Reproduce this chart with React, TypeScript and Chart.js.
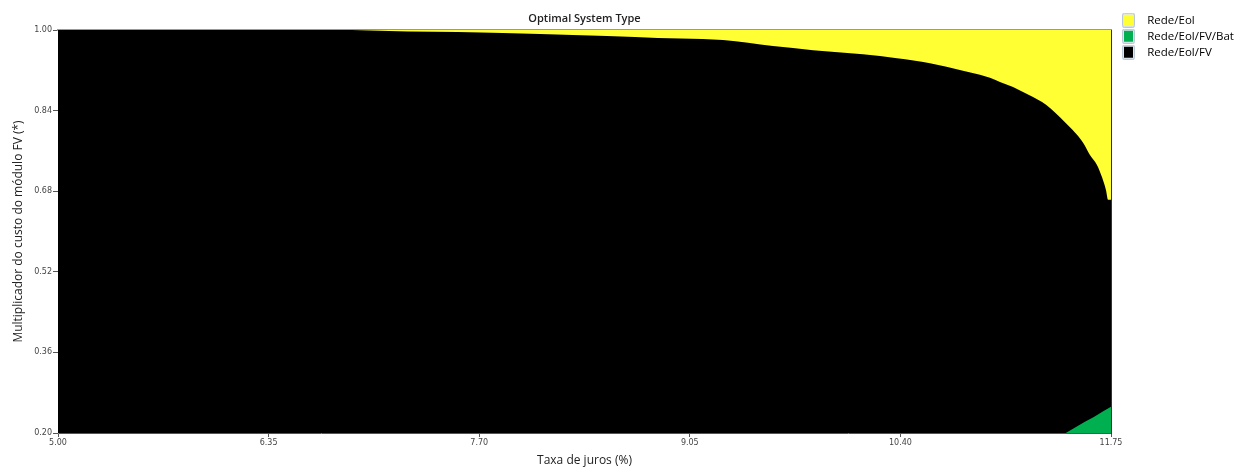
import React, { useEffect, useRef } from "react";
import { Chart, registerables } from "chart.js";

Chart.register(...registerables);

// ---- data ----
const categories = ["Rede/Eol", "Rede/Eol/FV/Bat", "Rede/Eol/FV"];
const categoryColors = ["#ffff33", "#00b050", "#000000"];

const xTicks = [5.0, 6.35, 7.7, 9.05, 10.4, 11.75];
const yTicks = [0.2, 0.36, 0.52, 0.68, 0.84, 1.0];

// boundary above which Rede/Eol is optimal
const eolRate = [6.885, 7.244, 7.564, 7.852, 8.09, 8.301, 8.519, 8.699, 8.846, 9.134, 9.263, 9.583, 9.84, 10.16, 10.378, 10.59, 10.801, 10.91, 10.974, 11.038, 11.122, 11.186, 11.25, 11.308, 11.359, 11.423, 11.474, 11.532, 11.571, 11.615, 11.66, 11.692, 11.718, 11.731, 11.75];
const eolMult = [1.0, 0.997, 0.996, 0.994, 0.992, 0.99, 0.988, 0.986, 0.984, 0.982, 0.98, 0.968, 0.96, 0.952, 0.944, 0.934, 0.919, 0.911, 0.905, 0.897, 0.887, 0.877, 0.867, 0.857, 0.845, 0.827, 0.811, 0.792, 0.776, 0.752, 0.732, 0.708, 0.682, 0.663, 0.663];

// boundary below which Rede/Eol/FV/Bat is optimal
const batRate = [11.46, 11.52, 11.58, 11.64, 11.7, 11.75];
const batMult = [0.2, 0.211, 0.222, 0.232, 0.243, 0.252];

// Rede/Eol/FV covers the whole domain underneath
const fvRate = [5.0, 11.75];
const fvMult = [1.0, 1.0];

const zip = (xs: number[], ys: number[]) => xs.map((x, i) => ({ x, y: ys[i] }));

function makeLegendBox(color: string): HTMLCanvasElement {
  const c = document.createElement("canvas");
  c.width = 13;
  c.height = 15;
  const g = c.getContext("2d")!;
  g.fillStyle = "#dfe7f0";
  g.beginPath();
  (g as any).roundRect(0, 0, 13, 15, 2);
  g.fill();
  g.strokeStyle = "#b9c7d6";
  g.lineWidth = 1;
  g.beginPath();
  (g as any).roundRect(0.5, 0.5, 12, 14, 2);
  g.stroke();
  g.fillStyle = color;
  g.fillRect(2, 2, 9, 11);
  return c;
}

export default function App() {
  const ref = useRef<HTMLCanvasElement | null>(null);

  useEffect(() => {
    document.body.style.margin = "0";
    const canvas = ref.current;
    if (!canvas) return;
    const boxes = categoryColors.map(makeLegendBox);
    const tickFont = { family: "DejaVu Sans", size: 8 };
    const chart = new Chart(canvas, {
      type: "line",
      data: {
        datasets: [
          {
            label: categories[0],
            data: zip(eolRate, eolMult),
            backgroundColor: categoryColors[0],
            borderColor: categoryColors[0],
            borderWidth: 0,
            pointRadius: 0,
            cubicInterpolationMode: "monotone",
            fill: "end",
          },
          {
            label: categories[1],
            data: zip(batRate, batMult),
            backgroundColor: categoryColors[1],
            borderColor: categoryColors[1],
            borderWidth: 0,
            pointRadius: 0,
            fill: "start",
          },
          {
            label: categories[2],
            data: zip(fvRate, fvMult),
            backgroundColor: categoryColors[2],
            borderColor: categoryColors[2],
            borderWidth: 0,
            pointRadius: 0,
            fill: "start",
          },
        ],
      },
      options: {
        responsive: false,
        animation: false,
        events: [],
        layout: { padding: { top: 10, right: 0, left: 0, bottom: 0 } },
        plugins: {
          tooltip: { enabled: false },
          title: {
            display: true,
            text: "Optimal System Type",
            fullSize: false,
            color: "#222",
            font: { family: "Open Sans", size: 11, weight: 600 },
            padding: { top: 2, bottom: 4.8 },
          },
          legend: {
            position: "right",
            align: "start",
            fullSize: true,
            maxWidth: 125,
            labels: {
              usePointStyle: true,
              pointStyleWidth: 26,
              padding: 4.5,
              color: "#222",
              font: { family: "Open Sans", size: 11.5 },
              generateLabels: () =>
                categories.map((t, i) => ({
                  text: t,
                  fillStyle: categoryColors[i],
                  strokeStyle: categoryColors[i],
                  lineWidth: 0,
                  pointStyle: boxes[i] as any,
                  hidden: false,
                  datasetIndex: i,
                })),
            },
          },
        },
        scales: {
          x: {
            type: "linear",
            position: "bottom",
            min: 5,
            max: 11.75,
            afterBuildTicks: (s: any) => {
              s.ticks = xTicks.map((v) => ({ value: v }));
            },
            afterFit: (s: any) => {
              s.height = 35;
            },
            ticks: {
              autoSkip: false,
              maxRotation: 0,
              padding: 1,
              color: "#444",
              font: tickFont,
              callback: (v: any) => Number(v).toFixed(2),
            },
            grid: { display: true, drawOnChartArea: false, drawTicks: true, tickLength: 4, color: "#555" },
            border: { display: true, color: "#555", width: 1 },
            title: {
              display: true,
              text: "Taxa de juros (%)",
              color: "#222",
              font: { family: "Open Sans", size: 12 },
              padding: { top: 0, bottom: 0 },
            },
          },
          y: {
            type: "linear",
            position: "left",
            min: 0.2,
            max: 1.0,
            afterBuildTicks: (s: any) => {
              s.ticks = yTicks.map((v) => ({ value: v }));
            },
            afterFit: (s: any) => {
              s.width = 58;
            },
            ticks: {
              autoSkip: false,
              padding: 1,
              color: "#444",
              font: tickFont,
              callback: (v: any) => Number(v).toFixed(2),
            },
            grid: { display: true, drawOnChartArea: false, drawTicks: true, tickLength: 5, color: "#555" },
            border: { display: true, color: "#888", width: 1 },
            title: {
              display: true,
              text: "Multiplicador do custo do módulo FV (*)",
              color: "#222",
              font: { family: "Open Sans", size: 12 },
              padding: { top: 11, bottom: 0 },
            },
          },
          xTop: {
            type: "linear",
            position: "top",
            min: 5,
            max: 11.75,
            ticks: { display: false },
            grid: { display: false },
            border: { display: true, color: "#999", width: 2 },
            afterFit: (s: any) => {
              s.height = 0;
            },
          },
          yRight: {
            type: "linear",
            position: "right",
            min: 0.2,
            max: 1.0,
            ticks: { display: false },
            grid: { display: false },
            border: { display: true, color: "#333", width: 1 },
            afterFit: (s: any) => {
              s.width = 0;
            },
          },
        },
      } as any,
    });
    return () => chart.destroy();
  }, []);

  return <canvas ref={ref} width={1236} height={468} style={{ display: "block" }} />;
}
